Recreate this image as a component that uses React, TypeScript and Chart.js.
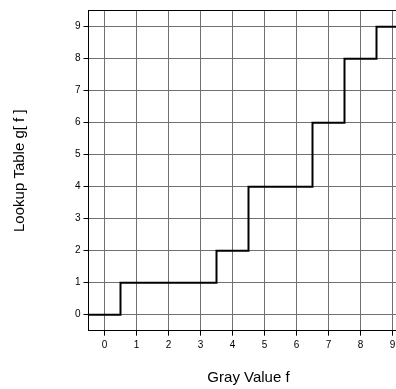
import React, { useEffect, useRef } from "react";
import { Chart, registerables } from "chart.js";

Chart.register(...registerables);

const grayValues = [0, 1, 2, 3, 4, 5, 6, 7, 8, 9];
const lookupTable = [0, 1, 1, 1, 2, 4, 4, 6, 8, 9];
const xTickValues = [0, 1, 2, 3, 4, 5, 6, 7, 8, 9];
const yTickValues = [0, 1, 2, 3, 4, 5, 6, 7, 8, 9];
const xTitle = "Gray Value f";
const yTitle = "Lookup Table g[ f ]";

const FONT = "'Liberation Sans', Arial, Helvetica, sans-serif";

export default function App() {
  const ref = useRef<HTMLCanvasElement | null>(null);

  useEffect(() => {
    if (!ref.current) return;
    const points: { x: number; y: number }[] = [];
    grayValues.forEach((f, i) => {
      points.push({ x: f - 0.5, y: lookupTable[i] });
      points.push({ x: f + 0.5, y: lookupTable[i] });
    });

    const chart = new Chart(ref.current, {
      type: "line",
      data: {
        datasets: [
          {
            data: points,
            borderColor: "#000",
            borderWidth: 2,
            pointRadius: 0,
            tension: 0,
            fill: false,
          },
        ],
      },
      options: {
        responsive: false,
        animation: false,
        devicePixelRatio: 1,
        layout: { padding: { top: 10.7, right: 11.5, left: 0, bottom: 0 } },
        plugins: { legend: { display: false }, tooltip: { enabled: false } },
        scales: {
          x: {
            type: "linear",
            position: "bottom",
            min: grayValues[0] - 0.5,
            max: grayValues[grayValues.length - 1] + 0.5,
            afterBuildTicks: (s: any) => {
              s.ticks = xTickValues.map((v) => ({ value: v }));
            },
            afterFit: (s: any) => {
              s.height = 58.3;
            },
            grid: {
              color: "#707070",
              lineWidth: 1,
              tickColor: "#000",
              tickLength: 5,
              drawTicks: true,
            },
            border: { display: true, color: "#000", width: 1 },
            ticks: {
              color: "#000",
              font: { family: FONT, size: 10 },
              padding: 4,
              maxRotation: 0,
              autoSkip: false,
              callback: (v: any) => String(v),
            },
            title: {
              display: true,
              text: xTitle,
              color: "#000",
              font: { family: FONT, size: 15 },
              padding: { top: 0, bottom: 2 },
            },
          },
          x2: {
            type: "linear",
            position: "top",
            min: grayValues[0] - 0.5,
            max: grayValues[grayValues.length - 1] + 0.5,
            afterFit: (s: any) => {
              s.height = 0;
            },
            grid: { display: false, drawOnChartArea: false, drawTicks: false },
            border: { display: true, color: "#000", width: 1 },
            ticks: { display: false },
          },
          y: {
            type: "linear",
            position: "left",
            min: -0.5,
            max: 9.5,
            afterBuildTicks: (s: any) => {
              s.ticks = yTickValues.map((v) => ({ value: v }));
            },
            afterFit: (s: any) => {
              s.width = 88.5;
            },
            grid: {
              color: "#707070",
              lineWidth: 1,
              tickColor: "#000",
              tickLength: 5,
              drawTicks: true,
            },
            border: { display: true, color: "#000", width: 1 },
            ticks: {
              color: "#000",
              font: { family: FONT, size: 10 },
              padding: 3,
              autoSkip: false,
              callback: (v: any) => String(v),
            },
            title: {
              display: true,
              text: yTitle,
              color: "#000",
              font: { family: FONT, size: 15 },
              padding: { top: 11, bottom: 0 },
            },
          },
        },
      },
    });
    return () => chart.destroy();
  }, []);

  return (
    <div
      style={{
        position: "absolute",
        left: 0,
        top: 0,
        width: 396,
        height: 389,
        overflow: "hidden",
        background: "#fff",
      }}
    >
      <canvas ref={ref} width={420} height={389} style={{ display: "block" }} />
    </div>
  );
}
